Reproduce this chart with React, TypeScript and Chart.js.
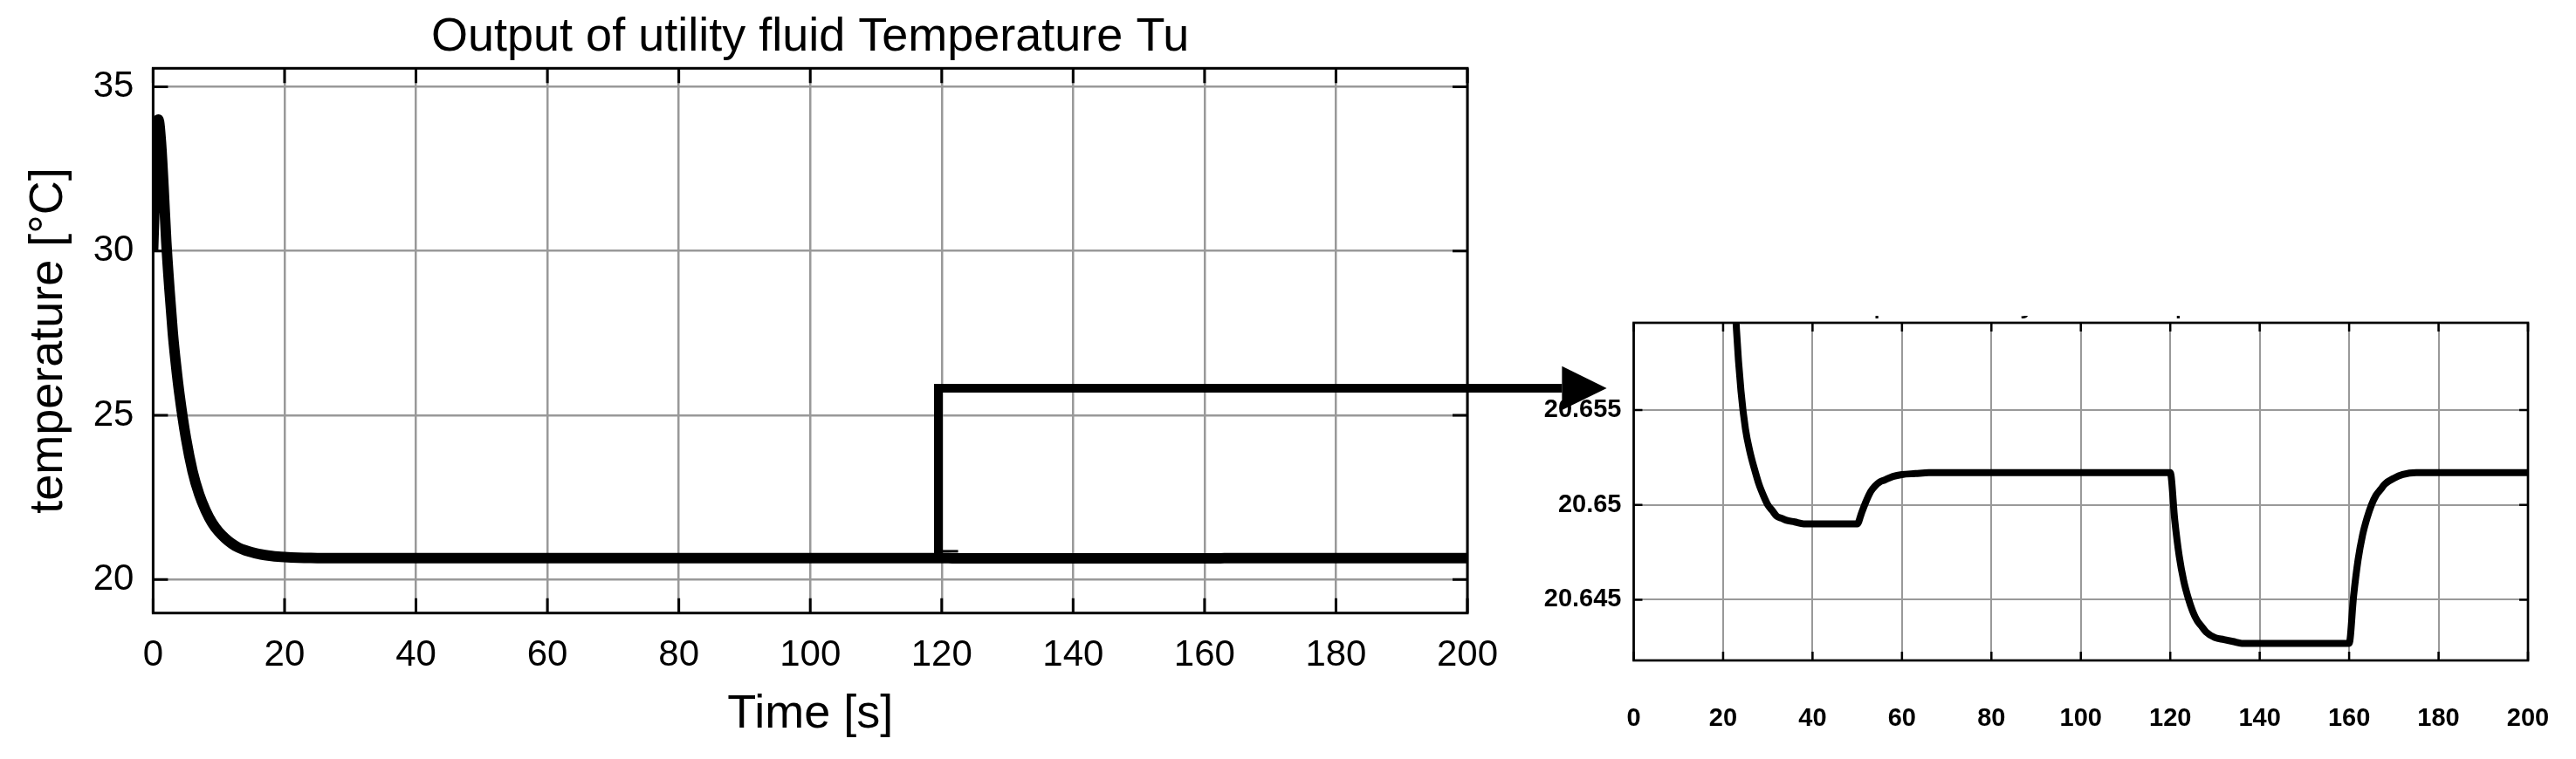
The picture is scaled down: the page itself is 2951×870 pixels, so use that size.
import React, { useEffect, useRef } from "react";
import { Chart, registerables } from "chart.js";

Chart.register(...registerables);

// ---------------- data ----------------
const timeSeconds = [
  0, 0.4, 0.8, 1.2, 1.6, 2, 2.5, 3, 3.5, 4, 5, 6, 7, 8, 9, 10, 11, 12, 13, 14, 15, 16, 17, 18, 19, 20,
  21, 22, 23, 24, 25, 26, 27, 28, 29, 30, 31, 32, 33, 34, 36, 38, 42, 46, 50,
  51, 52, 53, 54, 55, 56, 58, 60, 63, 66, 80, 100, 120,
  121, 122, 123, 124, 125, 126, 127, 128, 130, 132, 134, 136, 150, 160,
  161, 162, 163, 164, 165, 166, 167, 168, 170, 172, 175, 200,
];
const temperatureTu = [
  30.0, 32.5, 34.0, 33.3, 31.9, 30.3, 28.8, 27.5, 26.5, 25.65, 24.3, 23.3, 22.6, 22.1, 21.72, 21.45, 21.25, 21.09, 20.97, 20.89, 20.83, 20.78, 20.745, 20.718, 20.698, 20.684,
  20.673, 20.6645, 20.6592, 20.656, 20.654, 20.6528, 20.6519, 20.6511, 20.6505, 20.65, 20.6497, 20.6494, 20.6493, 20.6492, 20.6491, 20.649, 20.649, 20.649, 20.649,
  20.6496, 20.6502, 20.6507, 20.651, 20.6512, 20.6513, 20.6515, 20.6516, 20.65165, 20.6517, 20.6517, 20.6517, 20.6517,
  20.6492, 20.6473, 20.646, 20.6451, 20.6444, 20.6439, 20.6436, 20.6433, 20.643, 20.6429, 20.6428, 20.6427, 20.6427, 20.6427,
  20.6452, 20.6471, 20.6484, 20.6493, 20.65, 20.6505, 20.6508, 20.6511, 20.6514, 20.6516, 20.6517, 20.6517,
];

const mainXTicks = [0, 20, 40, 60, 80, 100, 120, 140, 160, 180, 200];
const mainYTicks = [20, 25, 30, 35];
const insetXTicks = [0, 20, 40, 60, 80, 100, 120, 140, 160, 180, 200];
const insetYTicks = [20.645, 20.65, 20.655];

const mainXRange = [0, 200];
const mainYRange = [18.98, 35.56];
const insetXRange = [0, 200];
const insetYRange = [20.6418, 20.6596];

const chartTitle = "Output of utility fluid Temperature Tu";
const xAxisTitle = "Time [s]";
const yAxisTitle = "temperature [°C]";

// zoom-arrow annotation, in main-chart data units
const arrowCornerTime = 119.5;
const arrowFootTime = 122.5;
const arrowBottomTemp = 20.75;
const arrowFootTemp = 20.86;
const arrowLevelTemp = 25.82;
const arrowHeadBaseTime = 214.4;
const arrowHeadTipTime = 221.2;
const arrowHeadTopTemp = 26.49;
const arrowHeadBottomTemp = 25.16;

// ---------------- styles ----------------
const SANS = '"Liberation Sans", Arial, Helvetica, sans-serif';
const GRID = "#999999";

const points = timeSeconds.map((t, i) => ({ x: t, y: temperatureTu[i] }));

const tickSetter = (vals: number[]) => (scale: any) => {
  scale.ticks = vals.map((v) => ({ value: v }));
};

const fixSize = (dim: "width" | "height", size: number) => (s: any) => {
  s[dim] = size;
  s.paddingTop = 0;
  s.paddingBottom = 0;
  s.paddingLeft = 0;
  s.paddingRight = 0;
};

const boxPlugin = {
  id: "matlabBox",
  afterDraw(chart: any, _args: any, opts: any) {
    const { ctx, chartArea: a, scales } = chart;
    ctx.save();
    ctx.strokeStyle = "#000";
    ctx.lineWidth = opts.tickWidth;
    ctx.lineCap = "butt";
    const len = opts.tickLength;
    for (const t of scales.x.ticks) {
      const px = scales.x.getPixelForValue(t.value);
      ctx.beginPath();
      ctx.moveTo(px, a.top);
      ctx.lineTo(px, a.top + len);
      ctx.moveTo(px, a.bottom);
      ctx.lineTo(px, a.bottom - len);
      ctx.stroke();
    }
    for (const t of scales.y.ticks) {
      const py = scales.y.getPixelForValue(t.value);
      ctx.beginPath();
      ctx.moveTo(a.left, py);
      ctx.lineTo(a.left + len, py);
      ctx.moveTo(a.right, py);
      ctx.lineTo(a.right - len, py);
      ctx.stroke();
    }
    ctx.lineWidth = opts.borderWidth;
    ctx.strokeRect(a.left, a.top, a.right - a.left, a.bottom - a.top);
    ctx.restore();
  },
};

const arrowPlugin = {
  id: "zoomArrow",
  afterDraw(chart: any) {
    const { ctx, scales } = chart;
    const X = (v: number) => scales.x.getPixelForValue(v);
    const Y = (v: number) => scales.y.getPixelForValue(v);
    ctx.save();
    ctx.strokeStyle = "#000";
    ctx.fillStyle = "#000";
    ctx.lineWidth = 10;
    ctx.lineJoin = "miter";
    ctx.lineCap = "butt";
    ctx.beginPath();
    ctx.moveTo(X(arrowCornerTime), Y(arrowBottomTemp));
    ctx.lineTo(X(arrowCornerTime), Y(arrowLevelTemp));
    ctx.lineTo(X(arrowHeadBaseTime), Y(arrowLevelTemp));
    ctx.stroke();
    ctx.lineWidth = 3;
    ctx.beginPath();
    ctx.moveTo(X(arrowCornerTime), Y(arrowFootTemp));
    ctx.lineTo(X(arrowFootTime), Y(arrowFootTemp));
    ctx.stroke();
    ctx.beginPath();
    ctx.moveTo(X(arrowHeadBaseTime), Y(arrowHeadTopTemp));
    ctx.lineTo(X(arrowHeadTipTime), Y(arrowLevelTemp));
    ctx.lineTo(X(arrowHeadBaseTime), Y(arrowHeadBottomTemp));
    ctx.closePath();
    ctx.fill();
    ctx.restore();
  },
};

const insetTitlePlugin = {
  id: "insetCutTitle",
  afterDraw(chart: any) {
    const { ctx, chartArea: a } = chart;
    ctx.save();
    ctx.fillStyle = "#000";
    ctx.font = `37px ${SANS}`;
    ctx.textAlign = "center";
    ctx.textBaseline = "alphabetic";
    ctx.fillText(chartTitle, (a.left + a.right) / 2, a.top - 13);
    ctx.restore();
  },
};

function mainConfig(): any {
  return {
    type: "line",
    data: {
      datasets: [
        {
          data: points,
          borderColor: "#000",
          borderWidth: 12,
          pointRadius: 0,
          fill: false,
          cubicInterpolationMode: "monotone",
          clip: 0,
        },
      ],
    },
    options: {
      responsive: false,
      animation: false,
      devicePixelRatio: 1,
      parsing: false,
      layout: { autoPadding: false, padding: { left: 0, right: 219, top: 0, bottom: 0 } },
      plugins: {
        legend: { display: false },
        tooltip: { enabled: false },
        title: {
          display: true,
          fullSize: false,
          text: chartTitle,
          color: "#000",
          font: { family: SANS, size: 54, weight: "normal", lineHeight: 1.2 },
          padding: { top: 10.4, bottom: 3.1 },
        },
        matlabBox: { tickLength: 17, tickWidth: 3, borderWidth: 3 },
      },
      scales: {
        x: {
          type: "linear",
          min: mainXRange[0],
          max: mainXRange[1],
          afterBuildTicks: tickSetter(mainXTicks),
          afterFit: fixSize("height", 167.3),
          border: { display: false },
          grid: { color: GRID, lineWidth: 2.5, drawTicks: false },
          ticks: {
            color: "#000",
            font: { family: SANS, size: 42, lineHeight: 1.2 },
            padding: 24,
            maxRotation: 0,
            autoSkip: false,
            callback: (v: any) => String(v),
          },
          title: {
            display: true,
            text: xAxisTitle,
            color: "#000",
            font: { family: SANS, size: 54, lineHeight: 1.2 },
            padding: { top: 0, bottom: 18.3 },
          },
        },
        y: {
          type: "linear",
          min: mainYRange[0],
          max: mainYRange[1],
          afterBuildTicks: tickSetter(mainYTicks),
          afterFit: fixSize("width", 175.4),
          border: { display: false },
          grid: { color: GRID, lineWidth: 2.5, drawTicks: false },
          ticks: {
            color: "#000",
            font: { family: SANS, size: 42, lineHeight: 1.2 },
            padding: 22,
            autoSkip: false,
            callback: (v: any) => String(v),
          },
          title: {
            display: true,
            text: yAxisTitle,
            color: "#000",
            font: { family: SANS, size: 54, lineHeight: 1.2 },
            padding: { top: 23.4, bottom: 0 },
          },
        },
      },
    },
    plugins: [boxPlugin, arrowPlugin],
  };
}

function insetConfig(): any {
  return {
    type: "line",
    data: {
      datasets: [
        {
          data: points,
          borderColor: "#000",
          borderWidth: 8,
          pointRadius: 0,
          fill: false,
          cubicInterpolationMode: "monotone",
          clip: 0,
        },
      ],
    },
    options: {
      responsive: false,
      animation: false,
      devicePixelRatio: 1,
      parsing: false,
      layout: { autoPadding: false, padding: { left: 0, right: 55, top: 8, bottom: 0 } },
      plugins: {
        legend: { display: false },
        tooltip: { enabled: false },
        title: { display: false },
        matlabBox: { tickLength: 10, tickWidth: 2.5, borderWidth: 2.7 },
      },
      scales: {
        x: {
          type: "linear",
          min: insetXRange[0],
          max: insetXRange[1],
          afterBuildTicks: tickSetter(insetXTicks),
          afterFit: fixSize("height", 113),
          border: { display: false },
          grid: { color: GRID, lineWidth: 2, drawTicks: false },
          ticks: {
            color: "#000",
            font: { family: SANS, size: 29, weight: "bold", lineHeight: 1.2 },
            padding: 49.4,
            maxRotation: 0,
            autoSkip: false,
            callback: (v: any) => String(v),
          },
        },
        y: {
          type: "linear",
          min: insetYRange[0],
          max: insetYRange[1],
          afterBuildTicks: tickSetter(insetYTicks),
          afterFit: fixSize("width", 171.5),
          border: { display: false },
          grid: { color: GRID, lineWidth: 2, drawTicks: false },
          ticks: {
            color: "#000",
            font: { family: SANS, size: 29, weight: "bold", lineHeight: 1.2 },
            padding: 14,
            autoSkip: false,
            callback: (v: any) => String(v),
          },
        },
      },
    },
    plugins: [boxPlugin, insetTitlePlugin],
  };
}

export default function App() {
  const mainRef = useRef<HTMLCanvasElement>(null);
  const insetRef = useRef<HTMLCanvasElement>(null);

  useEffect(() => {
    const inset = new Chart(insetRef.current as HTMLCanvasElement, insetConfig());
    const main = new Chart(mainRef.current as HTMLCanvasElement, mainConfig());
    return () => {
      main.destroy();
      inset.destroy();
    };
  }, []);

  return (
    <div
      style={{
        position: "absolute",
        left: 0,
        top: 0,
        width: 2951,
        height: 870,
        background: "#fff",
        overflow: "hidden",
      }}
    >
      <canvas
        ref={insetRef}
        width={1251}
        height={508}
        style={{ position: "absolute", left: 1700, top: 362, width: 1251, height: 508 }}
      />
      <canvas
        ref={mainRef}
        width={1900}
        height={870}
        style={{ position: "absolute", left: 0, top: 0, width: 1900, height: 870 }}
      />
    </div>
  );
}
